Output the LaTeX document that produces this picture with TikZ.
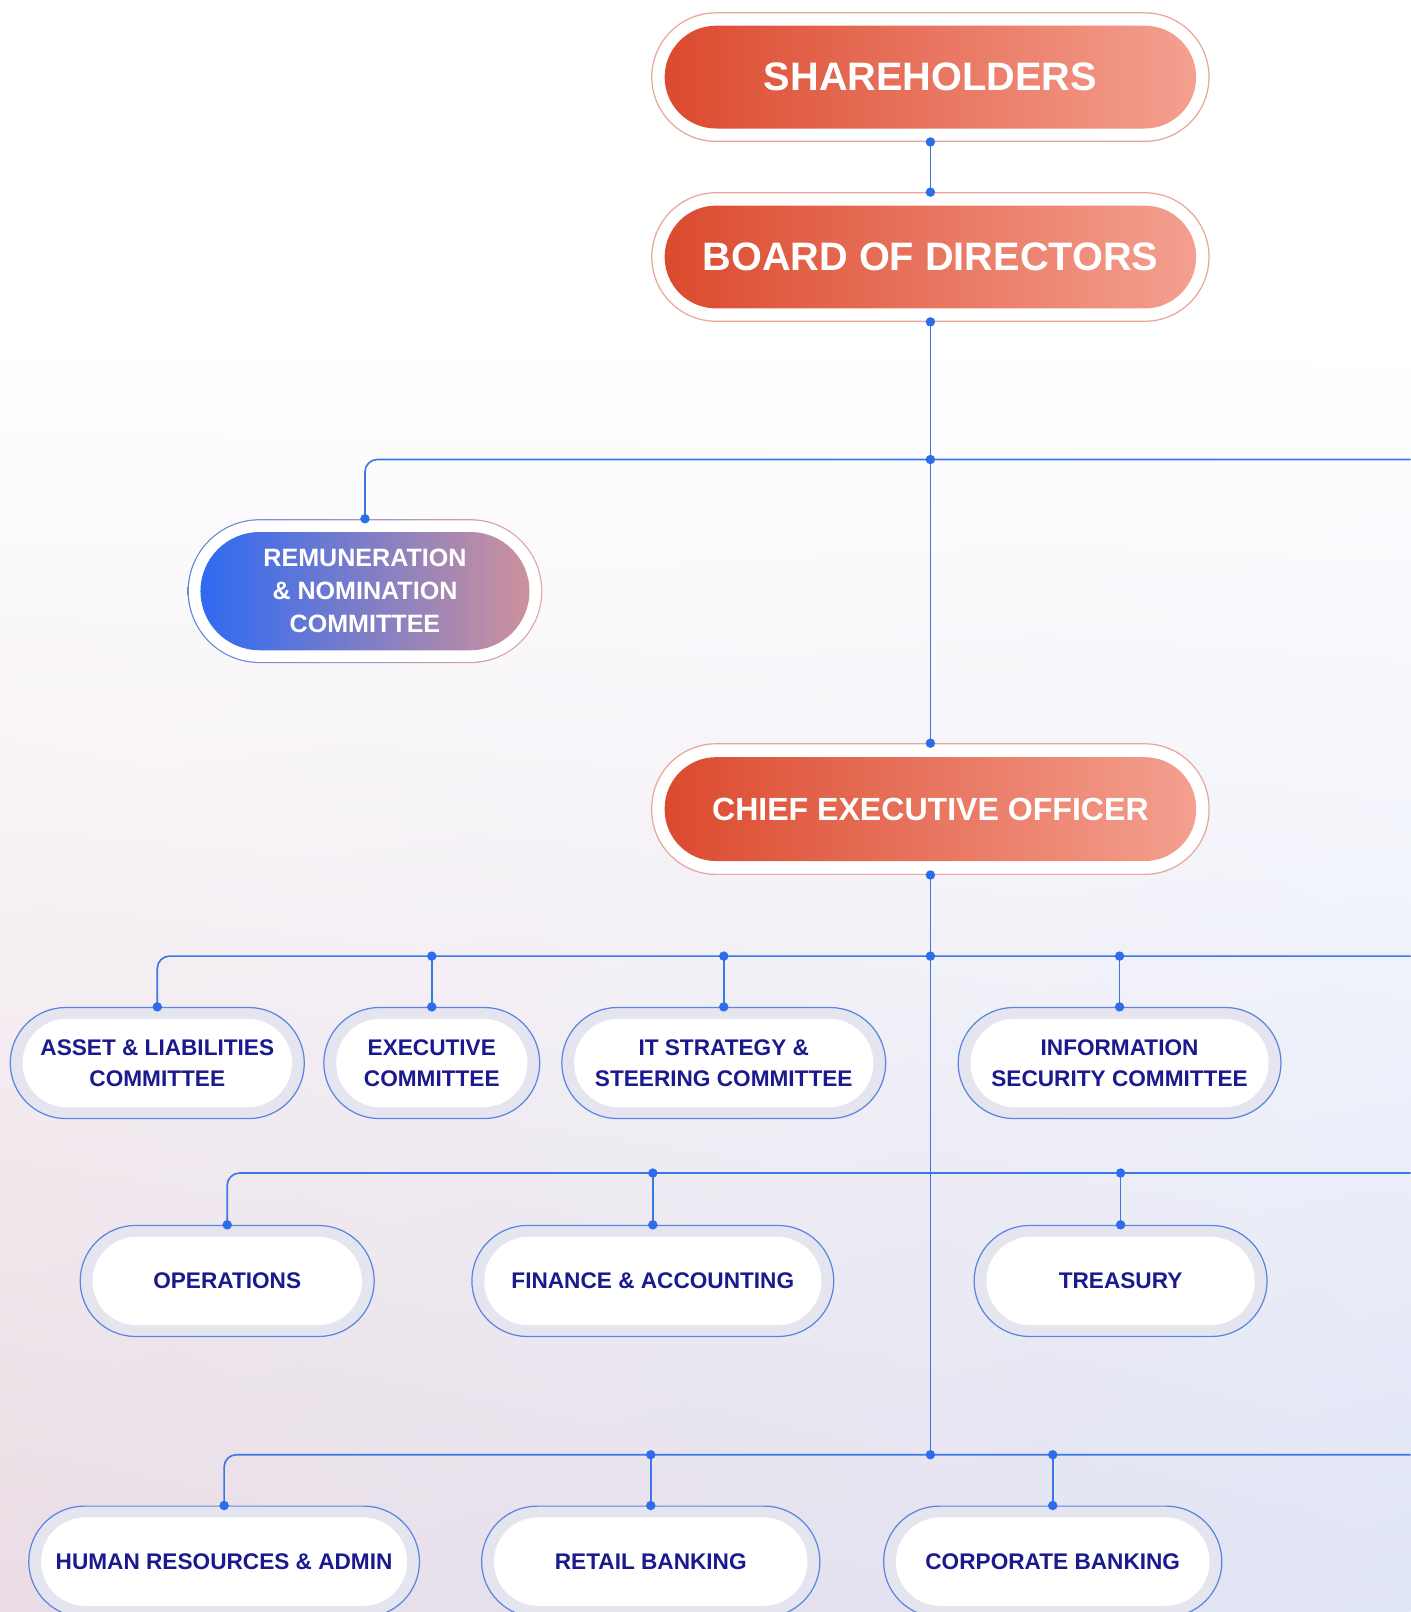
\documentclass[tikz,border=0pt]{standalone}
\usepackage{fontspec}
\setmainfont{Liberation Sans}
\usetikzlibrary{calc,shadings}

\definecolor{lineblue}{HTML}{3A78E8}
\definecolor{dotblue}{HTML}{2C6DEB}
\definecolor{redL}{HTML}{DB4A2E}
\definecolor{redR}{HTML}{F4A090}
\definecolor{ringred}{HTML}{E8A69C}
\definecolor{remL}{HTML}{2E6AF2}
\definecolor{remR}{HTML}{CE919C}
\definecolor{ringblue}{HTML}{5A86E2}
\definecolor{band}{HTML}{E5E5F0}
\definecolor{navy}{HTML}{1A1A8E}
\definecolor{bgBL}{HTML}{EADCE4}
\definecolor{bgBR}{HTML}{E0E5F6}

\tikzset{
  conn/.style={lineblue, line width=0.8pt},
  redring/.style={draw=ringred, line width=0.6pt, fill=white,
    minimum width=271pt, minimum height=62.5pt, rounded corners=31.25pt},
  redpill/.style={left color=redL, right color=redR,
    minimum width=258.5pt, minimum height=50pt, rounded corners=25pt,
    text=white, font=\bfseries\fontsize{19.3}{22}\selectfont},
  wring/.style={draw=ringblue, line width=0.6pt, fill=band,
    minimum width=#1, minimum height=54pt, rounded corners=27pt},
  wpill/.style={fill=white, minimum width=#1, minimum height=43pt,
    rounded corners=21.5pt, text=navy, align=center,
    font=\bfseries\fontsize{11}{15}\selectfont}
}

\begin{document}
\begin{tikzpicture}[x=0.5pt,y=-0.5pt]
  \useasboundingbox (0,0) rectangle (1372,1568);
  \clip (0,0) rectangle (1372,1568);
  \fill[white] (0,0) rectangle (1372,330);
  \shade[upper left=white, upper right=white, lower left=bgBL, lower right=bgBR]
    (0,330) rectangle (1372,1568);

  % board level
  \node[redring] (shRing) at (905,75) {};
  \node[redpill] (sh) at (shRing) {SHAREHOLDERS};
  \node[redring] (bdRing) at (905,250) {};
  \node[redpill] (bd) at (bdRing) {BOARD OF DIRECTORS};

  \node[minimum width=172.5pt, minimum height=70pt, rounded corners=35pt,
        left color=ringblue, right color=ringred,
        path picture={\fill[white, rounded corners=34.4pt]
          ([shift={(0.6pt,0.6pt)}]path picture bounding box.south west) rectangle
          ([shift={(-0.6pt,-0.6pt)}]path picture bounding box.north east);}]
        (remRing) at (355,575) {};
  \node[left color=remL, right color=remR, minimum width=160pt, minimum height=57.5pt,
        rounded corners=28.75pt, text=white, align=center,
        font=\bfseries\fontsize{12.2}{16}\selectfont]
        (rem) at (remRing) {REMUNERATION\\\& NOMINATION\\COMMITTEE};

  \node[redring, minimum height=63.5pt] (ceoRing) at (905,787) {};
  \node[redpill, minimum height=50.5pt, font=\bfseries\fontsize{15.6}{18}\selectfont]
        (ceo) at (ceoRing) {CHIEF EXECUTIVE OFFICER};

  % committees
  \node[wring=143pt] (alcoRing) at (153,1034) {};
  \node[wpill=131pt] (alco) at (alcoRing) {ASSET \& LIABILITIES\\COMMITTEE};
  \node[wring=105pt] (excoRing) at (420,1034) {};
  \node[wpill=93pt] (exco) at (excoRing) {EXECUTIVE\\COMMITTEE};
  \node[wring=157.5pt] (itscRing) at (704,1034) {};
  \node[wpill=145.5pt] (itsc) at (itscRing) {IT STRATEGY \&\\STEERING COMMITTEE};
  \node[wring=157pt] (iscRing) at (1089,1034) {};
  \node[wpill=145pt] (isc) at (iscRing) {INFORMATION\\SECURITY COMMITTEE};

  % departments
  \node[wring=143pt] (opsRing) at (221,1246) {};
  \node[wpill=131pt] (ops) at (opsRing) {OPERATIONS};
  \node[wring=176pt] (finRing) at (635,1246) {};
  \node[wpill=164pt] (fin) at (finRing) {FINANCE \& ACCOUNTING};
  \node[wring=142.5pt] (trsRing) at (1090,1246) {};
  \node[wpill=130.5pt] (trs) at (trsRing) {TREASURY};

  \node[wring=190pt] (hrRing) at (218,1519) {};
  \node[wpill=178pt] (hr) at (hrRing) {HUMAN RESOURCES \& ADMIN};
  \node[wring=164.5pt] (rtlRing) at (633,1519) {};
  \node[wpill=152.5pt] (rtl) at (rtlRing) {RETAIL BANKING};
  \node[wring=164.5pt] (corpRing) at (1024,1519) {};
  \node[wpill=152.5pt] (corp) at (corpRing) {CORPORATE BANKING};

  % connectors
  \coordinate (j1) at (905,447);
  \coordinate (b1) at (905,930);
  \coordinate (b2) at (905,1141);
  \coordinate (b3) at (905,1415);
  \coordinate (e1) at (1372,447);
  \coordinate (e2) at (1372,930);
  \coordinate (e3) at (1372,1141);
  \coordinate (e4) at (1372,1415);

  \draw[conn] (shRing.south) -- (bdRing.north);
  \draw[conn] (bdRing.south) -- (ceoRing.north);
  \draw[conn] (ceoRing.south) -- (b3);
  \draw[conn, rounded corners=6pt] (e1) -| (remRing.north);
  \draw[conn, rounded corners=6pt] (e2) -| (alcoRing.north);
  \draw[conn, rounded corners=6pt] (e3) -| (opsRing.north);
  \draw[conn, rounded corners=6pt] (e4) -| (hrRing.north);
  \foreach \n in {excoRing,itscRing,iscRing}
    \draw[conn] (\n.north |- b1) -- (\n.north);
  \foreach \n in {finRing,trsRing}
    \draw[conn] (\n.north |- b2) -- (\n.north);
  \foreach \n in {rtlRing,corpRing}
    \draw[conn] (\n.north |- b3) -- (\n.north);

  % dots
  \foreach \p in {shRing.south,bdRing.north,bdRing.south,j1,remRing.north,
                  ceoRing.north,ceoRing.south,b1,b3,
                  alcoRing.north,excoRing.north,itscRing.north,iscRing.north,
                  opsRing.north,finRing.north,trsRing.north,
                  hrRing.north,rtlRing.north,corpRing.north}
    \fill[dotblue] (\p) circle (2.3pt);
  \foreach \n in {excoRing,itscRing,iscRing}
    \fill[dotblue] (\n.north |- b1) circle (2.3pt);
  \foreach \n in {finRing,trsRing}
    \fill[dotblue] (\n.north |- b2) circle (2.3pt);
  \foreach \n in {rtlRing,corpRing}
    \fill[dotblue] (\n.north |- b3) circle (2.3pt);
\end{tikzpicture}
\end{document}
